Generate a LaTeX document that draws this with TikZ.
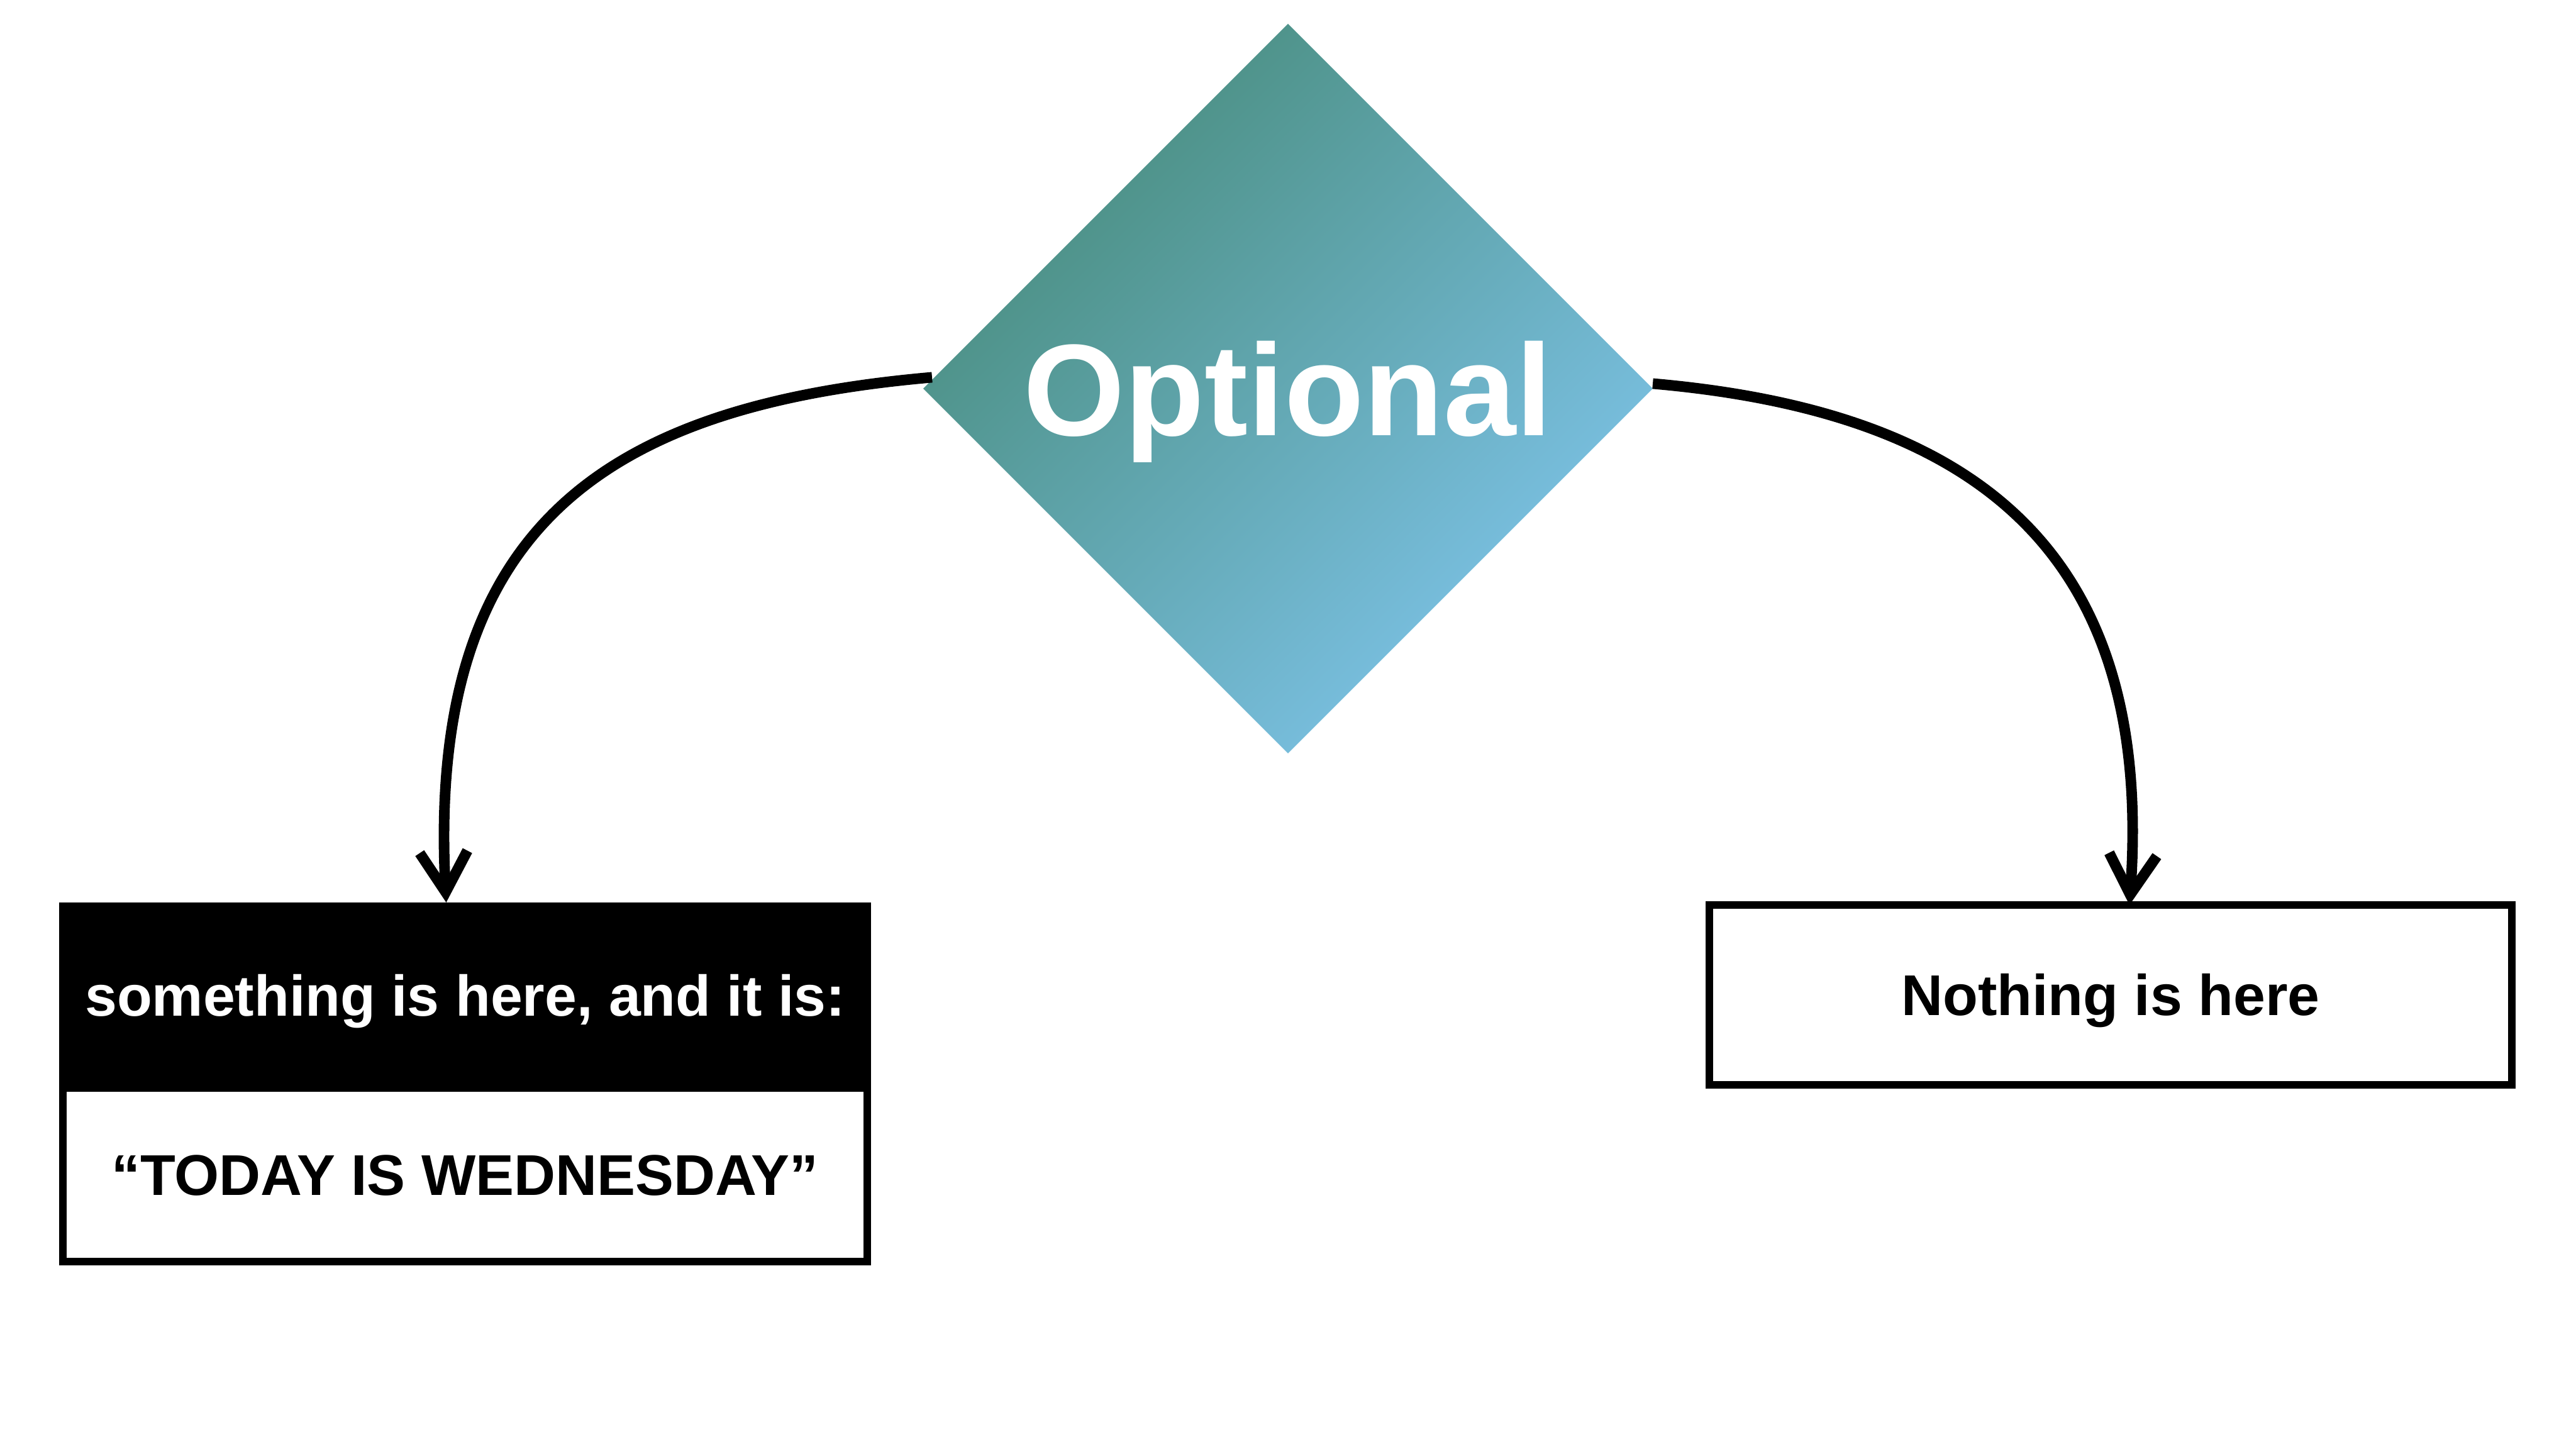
\documentclass[tikz,border=0pt]{standalone}
\usepackage{fontspec}
\setmainfont{Liberation Sans}
\usetikzlibrary{arrows.meta,shapes.geometric,positioning}
\definecolor{optdark}{RGB}{72,140,124}
\definecolor{optlight}{RGB}{126,196,234}

\begin{document}
\begin{tikzpicture}
\tikzstyle{decision} = [shape=diamond,aspect=1,minimum width=5.8cm,minimum height=5.8cm,inner sep=0pt,outer sep=0pt,top color=optdark,bottom color=optlight,shading angle=45,text=white,font=\bfseries\fontsize{29.5}{32}\selectfont,text height=21.1pt,text depth=0pt]
\tikzstyle{headbox} = [shape=rectangle,fill=black,text=white,inner sep=0pt,outer sep=0pt,font=\bfseries\fontsize{13}{15}\selectfont,text height=9.3pt,text depth=0pt]
\tikzstyle{valuebox} = [shape=rectangle,draw=black,line width=1.7pt,fill=white,inner sep=0pt,outer sep=0pt,font=\bfseries\fontsize{13}{15}\selectfont,text height=9.3pt,text depth=0pt]
\tikzstyle{branch} = [line width=2.4pt,-{Straight Barb[length=3.2mm,width=3.8mm]}]

\useasboundingbox (0,0) rectangle (20.48,11.52);

\node[decision] (opt) at (10.24,8.43) {Optional};

\node[headbox,minimum width=6.455cm,minimum height=1.475cm] (some) at (3.6975,3.6075) {something is here, and it is:};
\node[valuebox,below=0pt of some,minimum width=6.395cm,minimum height=1.38cm] (today) {“TODAY IS WEDNESDAY”};
\node[valuebox,minimum width=6.38cm,minimum height=1.43cm] (none) at (16.78,3.61) {Nothing is here};

\draw[branch] ([shift={(0.07,0.09)}]opt.west) .. controls +(185:2.6) and +(93:3.0) .. ([xshift=-1.5mm]some.north);
\draw[branch] ([yshift=0.4mm]opt.east) .. controls +(-5:2.6) and +(86:2.8) .. ([xshift=1.5mm]none.north);

\end{tikzpicture}
\end{document}
